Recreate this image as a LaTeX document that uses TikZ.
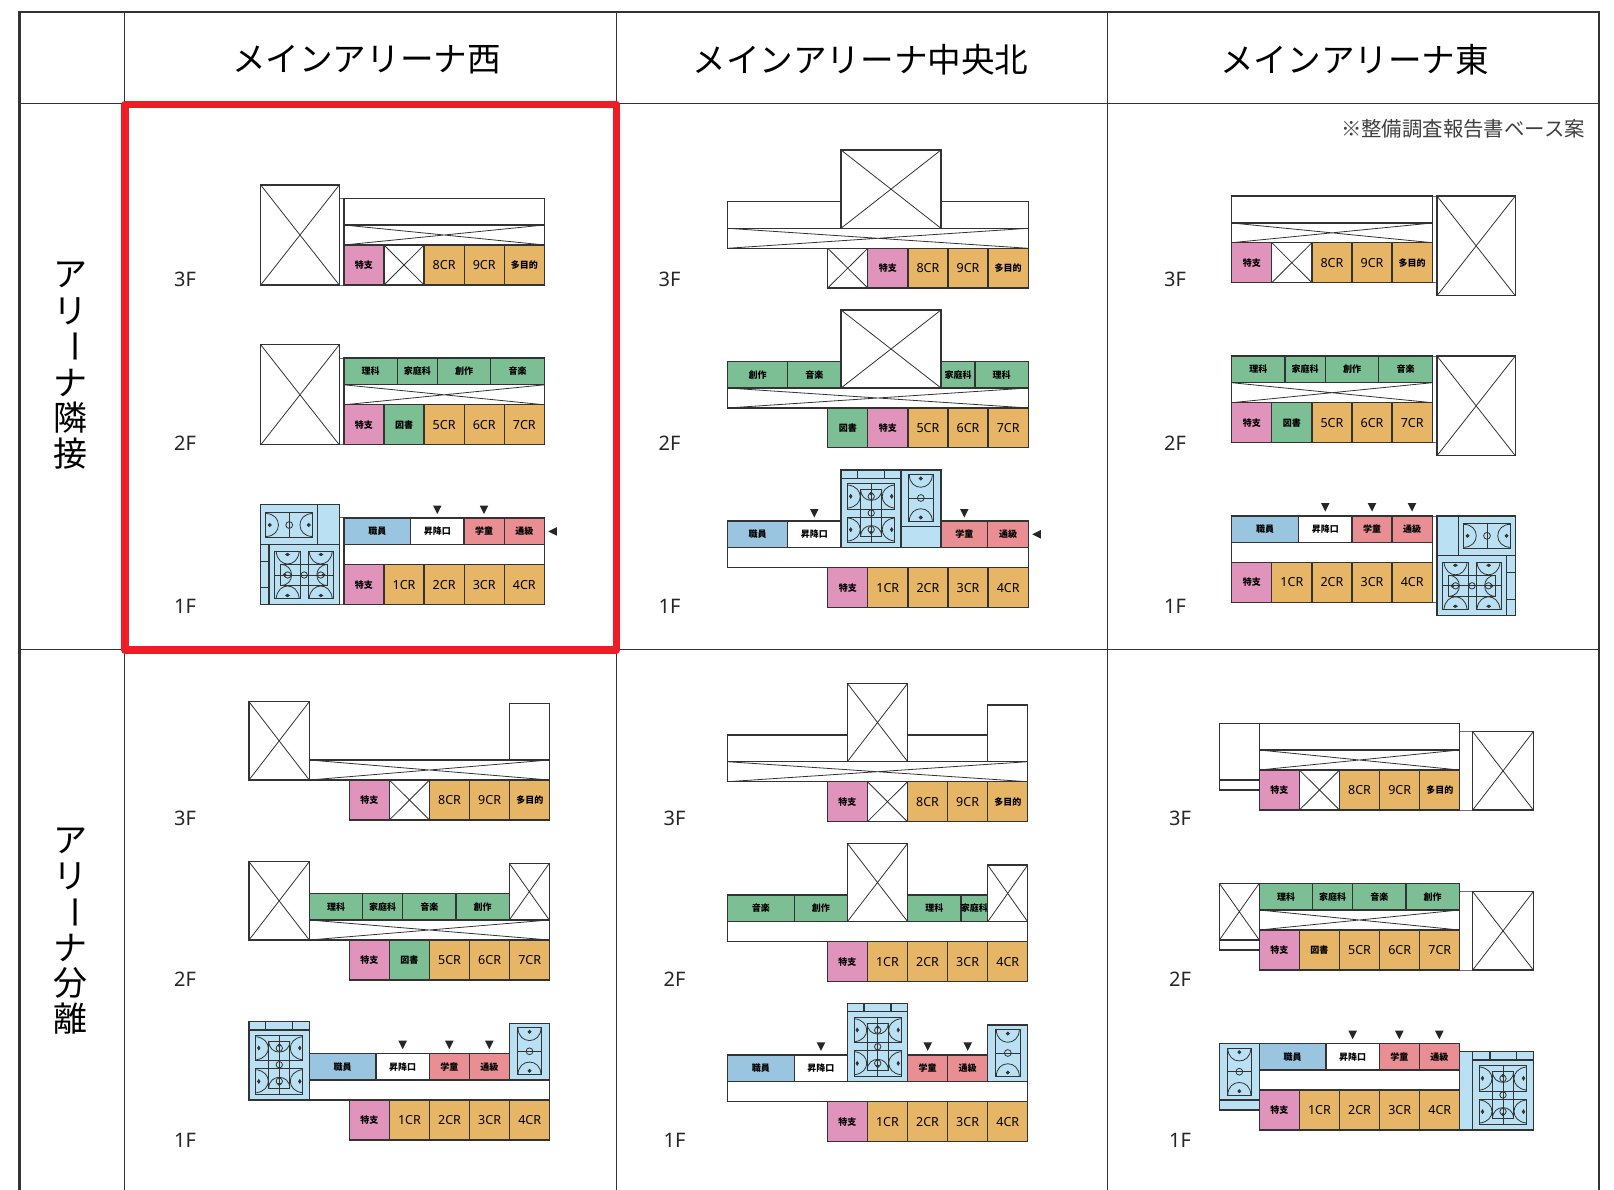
\documentclass[tikz,border=0pt]{standalone}
\usepackage{fontspec}
\setmainfont{Noto Sans CJK JP}
\newfontfamily\latinf{Noto Sans}
\definecolor{linec}{HTML}{333333}
\definecolor{pinkf}{HTML}{E093BB}
\definecolor{orgf}{HTML}{E6B566}
\definecolor{grnf}{HTML}{7DBF94}
\definecolor{bluf}{HTML}{99C5E0}
\definecolor{salf}{HTML}{E98F93}
\definecolor{gymf}{HTML}{B9E1F3}
\definecolor{redf}{HTML}{EE1C25}
\newcounter{lblc}
\newcommand{\kjfont}{\fontsize{9}{10}\selectfont\bfseries}
\newcommand{\crt}[1]{{\latinf\fontsize{12.5}{13}\selectfont #1}}
\tikzset{
  room/.style={draw=linec,line width=1.25pt},
  pinkc/.style={room,fill=pinkf},
  orgc/.style={room,fill=orgf},
  grnc/.style={room,fill=grnf},
  bluc/.style={room,fill=bluf},
  salc/.style={room,fill=salf},
  whic/.style={room,fill=white},
  gymc/.style={room,fill=gymf},
  voidx/.style={room,fill=white,path picture={
    \draw[linec,line width=0.8pt] (path picture bounding box.north west)--(path picture bounding box.south east)
      (path picture bounding box.north east)--(path picture bounding box.south west);}},
  linkl/.style={draw=linec!70,line width=0.9pt},
  court/.style={draw=linec,line width=0.8pt},
  grid/.style={draw=linec,line width=1pt},
  gridout/.style={draw=linec,line width=2.2pt},
  flr/.style={font=\latinf\fontsize{20}{20}\selectfont,text=black!85},
  hdr/.style={font=\fontsize{33.6}{33.6}\selectfont,text=black},
  vert/.style={font=\fontsize{34}{34}\selectfont,text=black},
}
% one row of five equal cells
\newcommand{\FiveRow}[4]{%
  \foreach \sty/\txt [count=\ii from 0] in {#4}{%
    \pgfmathsetmacro{\xa}{#3+\ii*40.1}%
    \pgfmathsetmacro{\xb}{#3+(\ii+1)*40.1}%
    \draw[\sty] (\xa,#1) rectangle (\xb,#2);
    \stepcounter{lblc}%
    \node[font=\kjfont,inner sep=0pt] (lbl\thelblc) at ({(\xa+\xb)/2},{(#1+#2)/2}) {\txt};
  }}
% a row of cells with explicit edges
\newcommand{\FreeRow}[3]{%
  \foreach \xa/\xb/\sty/\txt in {#3}{%
    \draw[\sty] (\xa,#1) rectangle (\xb,#2);
    \stepcounter{lblc}%
    \node[font=\kjfont,inner sep=0pt] (lbl\thelblc) at ({(\xa+\xb)/2},{(#1+#2)/2}) {\txt};
  }}
\newcommand{\TriD}[2]{\fill[black!85] (#1-4.3,#2) -- (#1+4.3,#2) -- (#1,#2+8.5) -- cycle;}
\newcommand{\TriL}[2]{\fill[black!85] (#1,#2) -- (#1+8.5,#2-4.3) -- (#1+8.5,#2+4.3) -- cycle;}
\newcommand{\CourtS}[3]{%
  \begin{scope}[shift={(#1,#2)},rotate=#3]
    \draw[court] (-23.5,-12.3) rectangle (23.5,12.3);
    \draw[court] (0,-12.3) -- (0,12.3);
    \draw[court] (0,0) circle[radius=3.4];
    \draw[court] (-23.5,-11.5) .. controls (-6.5,-11.5) and (-6.5,11.5) .. (-23.5,11.5);
    \draw[court] (23.5,-11.5) .. controls (6.5,-11.5) and (6.5,11.5) .. (23.5,11.5);
    \draw[court,fill=linec] (-19.5,0) circle[radius=1.5];
    \draw[court,fill=linec] (19.5,0) circle[radius=1.5];
  \end{scope}}
\newcommand{\CourtB}[3]{%
  \begin{scope}[shift={(#1,#2)},rotate=#3]
    \draw[court] (-29.5,-23.5) rectangle (-4,23.5);
    \draw[court] (4,-23.5) rectangle (29.5,23.5);
    \draw[court] (-23.5,-10.5) rectangle (23.5,10.5);
    \draw[court] (-29.5,0) -- (29.5,0);
    \draw[court] (0,0) circle[radius=3.2];
    \foreach \s in {-1,1}{
      \draw[court] (\s*23.5,-10.5) .. controls (\s*9,-10.5) and (\s*9,10.5) .. (\s*23.5,10.5);
      \draw[court] (\s*16.5,0) circle[radius=3.2];
      \draw[court,fill=linec] (\s*19.5,0) circle[radius=1.4];
      \foreach \t in {-1,1}{
        \draw[court] (\s*28,\t*23) .. controls (\s*26,\t*7) and (\s*7,\t*7) .. (\s*5,\t*23);
        \draw[court,fill=linec] (\s*16.7,\t*20.5) ellipse[x radius=1.8,y radius=1.2];
      }
    }
  \end{scope}}
\begin{document}
\begin{tikzpicture}[x=1pt,y=-1pt]
\useasboundingbox (0,0) rectangle (1614,1190);
\fill[white] (0,0) rectangle (1614,1190);
% ---------- table ----------
\draw[gridout] (19.5,1190) -- (19.5,12) -- (1599,12) -- (1599,1190);
\draw[grid] (19.5,103.5) -- (1599,103.5);
\draw[grid] (19.5,649.7) -- (1599,649.7);
\foreach \vx in {124.3,616.3,1107.3}{\draw[grid] (\vx,12) -- (\vx,1190);}
\node[hdr] (h1) at (366.4,59.5) {メインアリーナ西};
\node[hdr] (h2) at (860.5,59.5) {メインアリーナ中央北};
\node[hdr] (h3) at (1354.6,59.5) {メインアリーナ東};
\node[font=\fontsize{20.4}{20.4}\selectfont,text=black!75,anchor=east,inner sep=0pt] (note) at (1585,128.5) {※整備調査報告書ベース案};
% vertical row labels
\foreach \ch/\vy [count=\k] in {ア/275,リ/311,ナ/383,隣/418,接/454}{\node[vert] (va\k) at (70,\vy) {\ch};}
\node[vert,rotate=-90] (vaL) at (70,347) {ー};
\foreach \ch/\vy [count=\k] in {ア/841,リ/876,ナ/948,分/983,離/1019}{\node[vert] (vb\k) at (70,\vy) {\ch};}
\node[vert,rotate=-90] (vbL) at (70,912) {ー};
% floor labels
\foreach \fl/\vy [count=\k] in {3F/279.5,2F/443.5,1F/606.5}{
  \node[flr] (fa\k) at (185,\vy) {\fl};
  \node[flr] (fb\k) at (669.5,\vy) {\fl};
  \node[flr] (fc\k) at (1175,\vy) {\fl};
}
\foreach \fl/\vy [count=\k] in {3F/818.5,2F/979.5,1F/1140.5}{
  \node[flr] (fd\k) at (185,\vy) {\fl};
  \node[flr] (fe\k) at (674.5,\vy) {\fl};
  \node[flr] (ff\k) at (1180,\vy) {\fl};
}
% ---------- panel A: west, adjacent ----------
% 3F
\draw[linkl] (339.3,198.3) -- (343.9,198.3) (339.3,285) -- (343.9,285);
\draw[voidx] (260.7,185) rectangle (339.3,285);
\draw[whic] (343.9,198.3) rectangle (544.5,225);
\draw[voidx] (343.9,225) rectangle (544.5,245);
\FiveRow{245}{285}{343.9}{pinkc/特支,voidx/,orgc/\crt{8CR},orgc/\crt{9CR},orgc/多目的}
% 2F
\draw[linkl] (339.3,358) -- (343.9,358) (339.3,444.8) -- (343.9,444.8);
\draw[voidx] (260.7,344.8) rectangle (339.3,444.8);
\FreeRow{358}{384.8}{343.9/397.3/grnc/理科,397.3/437.3/grnc/家庭科,437.3/490.7/grnc/創作,490.7/544.5/grnc/音楽}
\draw[voidx] (343.9,384.8) rectangle (544.5,404.8);
\FiveRow{404.8}{444.8}{343.9}{pinkc/特支,grnc/図書,orgc/\crt{5CR},orgc/\crt{6CR},orgc/\crt{7CR}}
% 1F
\draw[linkl] (339.3,517.9) -- (343.9,517.9) (339.3,604.6) -- (343.9,604.6);
\draw[gymc] (260.7,504.6) rectangle (339.3,604.6);
\draw[room] (260.7,544.6) -- (339.3,544.6) (317.3,504.6) -- (317.3,544.6) (269,544.6) -- (269,604.6)
  (260.7,561.8) -- (269,561.8) (260.7,587.5) -- (269,587.5);
\CourtS{289.2}{525}{0}
\CourtB{304.2}{575}{0}
\FreeRow{517.9}{544.6}{343.9/410.7/bluc/職員,410.7/464/whic/昇降口,464/504.2/salc/学童,504.2/544.5/salc/通級}
\draw[whic] (343.9,544.6) rectangle (544.5,564.6);
\FiveRow{564.6}{604.6}{343.9}{pinkc/特支,orgc/\crt{1CR},orgc/\crt{2CR},orgc/\crt{3CR},orgc/\crt{4CR}}
\TriD{437.3}{505.5}\TriD{484}{505.5}\TriL{548.3}{531.4}
% ---------- panel B: centre north, adjacent ----------
% 3F
\draw[whic] (727.3,201.7) rectangle (1028.3,228.3);
\draw[voidx] (841,150) rectangle (941,228.3);
\draw[voidx] (727.3,228.3) rectangle (1028.3,248.3);
\FiveRow{248.3}{288}{827.7}{voidx/,pinkc/特支,orgc/\crt{8CR},orgc/\crt{9CR},orgc/多目的}
% 2F
\FreeRow{361.3}{388}{727.3/787.7/grnc/創作,787.7/841/grnc/音楽,941/975/grnc/家庭科,975/1028.3/grnc/理科}
\draw[voidx] (841,310) rectangle (941,388);
\draw[voidx] (727.3,388) rectangle (1028.3,408);
\FiveRow{408}{447.8}{827.7}{grnc/図書,pinkc/特支,orgc/\crt{5CR},orgc/\crt{6CR},orgc/\crt{7CR}}
% 1F
\FreeRow{521}{547.7}{727.3/787.7/bluc/職員,787.7/841/whic/昇降口,941/987.7/salc/学童,987.7/1028.3/salc/通級}
\draw[gymc] (841,470) rectangle (941,547.7);
\draw[room] (901,470) -- (901,547.7) (841,478.3) -- (901,478.3) (857.3,470) -- (857.3,478.3)
  (884.3,470) -- (884.3,478.3) (901,526.7) -- (941,526.7);
\CourtB{871.2}{513}{90}
\CourtS{920.8}{498}{90}
\draw[whic] (727.3,547.7) rectangle (1028.3,567.7);
\FiveRow{567.7}{607.7}{827.7}{pinkc/特支,orgc/\crt{1CR},orgc/\crt{2CR},orgc/\crt{3CR},orgc/\crt{4CR}}
\TriD{814.3}{509}\TriD{964.3}{509}\TriL{1032.3}{534.3}
% ---------- panel C: east, adjacent ----------
% 3F
\draw[linkl] (1432.3,196) -- (1437,196) (1432.3,282.7) -- (1437,282.7);
\draw[voidx] (1437,196) rectangle (1515.3,295.7);
\draw[whic] (1231.7,196) rectangle (1432.3,223);
\draw[voidx] (1231.7,223) rectangle (1432.3,242.7);
\FiveRow{242.7}{282.7}{1231.7}{pinkc/特支,voidx/,orgc/\crt{8CR},orgc/\crt{9CR},orgc/多目的}
% 2F
\draw[linkl] (1432.3,356) -- (1437,356) (1432.3,442.7) -- (1437,442.7);
\draw[voidx] (1437,356) rectangle (1515.3,455.7);
\FreeRow{356}{382.7}{1231.7/1285/grnc/理科,1285/1325.3/grnc/家庭科,1325.3/1378.7/grnc/創作,1378.7/1432.3/grnc/音楽}
\draw[voidx] (1231.7,382.7) rectangle (1432.3,402.7);
\FiveRow{402.7}{442.7}{1231.7}{pinkc/特支,grnc/図書,orgc/\crt{5CR},orgc/\crt{6CR},orgc/\crt{7CR}}
% 1F
\draw[linkl] (1432.3,516) -- (1437,516) (1432.3,602.3) -- (1437,602.3);
\draw[gymc] (1437,516) rectangle (1515.3,615.7);
\draw[room] (1437,555.7) -- (1515.3,555.7) (1458.7,516) -- (1458.7,555.7) (1506.7,555.7) -- (1506.7,615.7)
  (1506.7,572.7) -- (1515.3,572.7) (1506.7,599.3) -- (1515.3,599.3);
\CourtS{1487}{535.8}{0}
\CourtB{1472}{585.8}{0}
\FreeRow{516}{542.5}{1231.7/1298.7/bluc/職員,1298.7/1352/whic/昇降口,1352/1392/salc/学童,1392/1432.3/salc/通級}
\draw[whic] (1231.7,542.5) rectangle (1432.3,562.3);
\FiveRow{562.3}{602.3}{1231.7}{pinkc/特支,orgc/\crt{1CR},orgc/\crt{2CR},orgc/\crt{3CR},orgc/\crt{4CR}}
\TriD{1325.3}{503}\TriD{1372}{503}\TriD{1412}{503}
% ---------- panel D: west, separate ----------
% 3F
\draw[whic] (509.3,703.3) rectangle (549.3,760);
\draw[voidx] (249,701.7) rectangle (309.3,780);
\draw[voidx] (309.3,760) rectangle (549.3,780);
\FiveRow{780}{820}{349.3}{pinkc/特支,voidx/,orgc/\crt{8CR},orgc/\crt{9CR},orgc/多目的}
% 2F
\draw[voidx] (509.3,863.3) rectangle (549.3,920);
\draw[voidx] (249,861.7) rectangle (309.3,940);
\FreeRow{893.3}{920}{309.3/362.7/grnc/理科,362.7/402.7/grnc/家庭科,402.7/456/grnc/音楽,456/509.3/grnc/創作}
\draw[voidx] (309.3,920) rectangle (549.3,940);
\FiveRow{940}{980}{349.3}{pinkc/特支,grnc/図書,orgc/\crt{5CR},orgc/\crt{6CR},orgc/\crt{7CR}}
% 1F
\draw[gymc] (249,1021.7) rectangle (309.3,1100);
\draw[room] (249,1030) -- (309.3,1030) (265.7,1021.7) -- (265.7,1030) (292.7,1021.7) -- (292.7,1030);
\CourtB{279.3}{1064.7}{90}
\FreeRow{1053.3}{1080}{309.3/376/bluc/職員,376/429.3/whic/昇降口,429.3/469.3/salc/学童,469.3/509.3/salc/通級}
\draw[gymc] (509.3,1023.3) rectangle (549.3,1080);
\CourtS{529.5}{1051.3}{90}
\draw[whic] (309.3,1080) rectangle (549.3,1100);
\FiveRow{1100}{1140}{349.3}{pinkc/特支,orgc/\crt{1CR},orgc/\crt{2CR},orgc/\crt{3CR},orgc/\crt{4CR}}
\TriD{402.7}{1040.7}\TriD{449.3}{1040.7}\TriD{489.3}{1040.7}
% ---------- panel E: centre north, separate ----------
% 3F
\draw[whic] (727.3,735) rectangle (987.7,761.7);
\draw[whic] (987.7,705) rectangle (1027.7,761.7);
\draw[voidx] (847.3,683.3) rectangle (907.7,761.7);
\draw[voidx] (727.3,761.7) rectangle (1027.7,781.7);
\FiveRow{781.7}{821.7}{827.3}{pinkc/特支,voidx/,orgc/\crt{8CR},orgc/\crt{9CR},orgc/多目的}
% 2F
\FreeRow{895}{921.7}{727.3/794.3/grnc/音楽,794.3/847.3/grnc/創作,907.7/961/grnc/理科,961/987.7/grnc/家庭科}
\draw[voidx] (847.3,843.3) rectangle (907.7,921.7);
\draw[voidx] (987.7,865) rectangle (1027.7,921.7);
\draw[whic] (727.3,921.7) rectangle (1027.7,941.7);
\FiveRow{941.7}{981.7}{827.3}{pinkc/特支,orgc/\crt{1CR},orgc/\crt{2CR},orgc/\crt{3CR},orgc/\crt{4CR}}
% 1F
\FreeRow{1055}{1081.7}{727.3/794.3/bluc/職員,794.3/847.3/whic/昇降口,907.7/947.7/salc/学童,947.7/987.7/salc/通級}
\draw[gymc] (847.3,1003.3) rectangle (907.7,1081.7);
\draw[room] (847.3,1011.7) -- (907.7,1011.7) (864,1003.3) -- (864,1011.7) (891,1003.3) -- (891,1011.7);
\CourtB{877.7}{1046.7}{90}
\draw[gymc] (987.7,1025) rectangle (1027.7,1081.7);
\CourtS{1007.8}{1053}{90}
\draw[whic] (727.3,1081.7) rectangle (1027.7,1101.7);
\FiveRow{1101.7}{1141.7}{827.3}{pinkc/特支,orgc/\crt{1CR},orgc/\crt{2CR},orgc/\crt{3CR},orgc/\crt{4CR}}
\TriD{821}{1042.3}\TriD{927.7}{1042.3}\TriD{967.7}{1042.3}
% ---------- panel F: east, separate ----------
% 3F
\draw[linkl] (1459.3,731.7) -- (1472.7,731.7) (1459.3,810) -- (1472.7,810);
\draw[voidx] (1472.7,731.7) rectangle (1533.3,810);
\draw[whic] (1219.3,723.3) rectangle (1259.3,780);
\draw[whic] (1219.3,780) rectangle (1259.3,790);
\draw[whic] (1259.3,723.3) rectangle (1459.3,750);
\draw[voidx] (1259.3,750) rectangle (1459.3,770);
\FiveRow{770}{810}{1259.3}{pinkc/特支,voidx/,orgc/\crt{8CR},orgc/\crt{9CR},orgc/多目的}
% 2F
\draw[linkl] (1459.3,891.7) -- (1472.7,891.7) (1459.3,970) -- (1472.7,970);
\draw[voidx] (1472.7,891.7) rectangle (1533.3,970);
\draw[voidx] (1219.3,883.3) rectangle (1259.3,940);
\draw[whic] (1219.3,940) rectangle (1259.3,950);
\FreeRow{883.3}{910}{1259.3/1312.7/grnc/理科,1312.7/1352.7/grnc/家庭科,1352.7/1406/grnc/音楽,1406/1459.3/grnc/創作}
\draw[voidx] (1259.3,910) rectangle (1459.3,930);
\FiveRow{930}{970}{1259.3}{pinkc/特支,orgc/図書,orgc/\crt{5CR},orgc/\crt{6CR},orgc/\crt{7CR}}
% 1F
\draw[gymc] (1219.3,1043.3) rectangle (1259.3,1110);
\draw[room] (1219.3,1100) -- (1259.3,1100);
\CourtS{1239.3}{1071.7}{90}
\FreeRow{1043.3}{1070}{1259.3/1326/bluc/職員,1326/1379.3/whic/昇降口,1379.3/1419.3/salc/学童,1419.3/1459.3/salc/通級}
\draw[whic] (1259.3,1070) rectangle (1459.3,1090);
\draw[gymc] (1459.3,1051.7) rectangle (1533.3,1130);
\draw[room] (1472.7,1051.7) -- (1472.7,1130) (1472.7,1060) -- (1533.3,1060) (1490,1051.7) -- (1490,1060) (1516.7,1051.7) -- (1516.7,1060);
\CourtB{1503}{1095}{90}
\FiveRow{1090}{1130}{1259.3}{pinkc/特支,orgc/\crt{1CR},orgc/\crt{2CR},orgc/\crt{3CR},orgc/\crt{4CR}}
\TriD{1352.7}{1030.7}\TriD{1399.3}{1030.7}\TriD{1439.3}{1030.7}
% ---------- red highlight ----------
\draw[redf,line width=7.5pt,line join=round] (125,104.5) rectangle (616.5,650);
\end{tikzpicture}
\end{document}
